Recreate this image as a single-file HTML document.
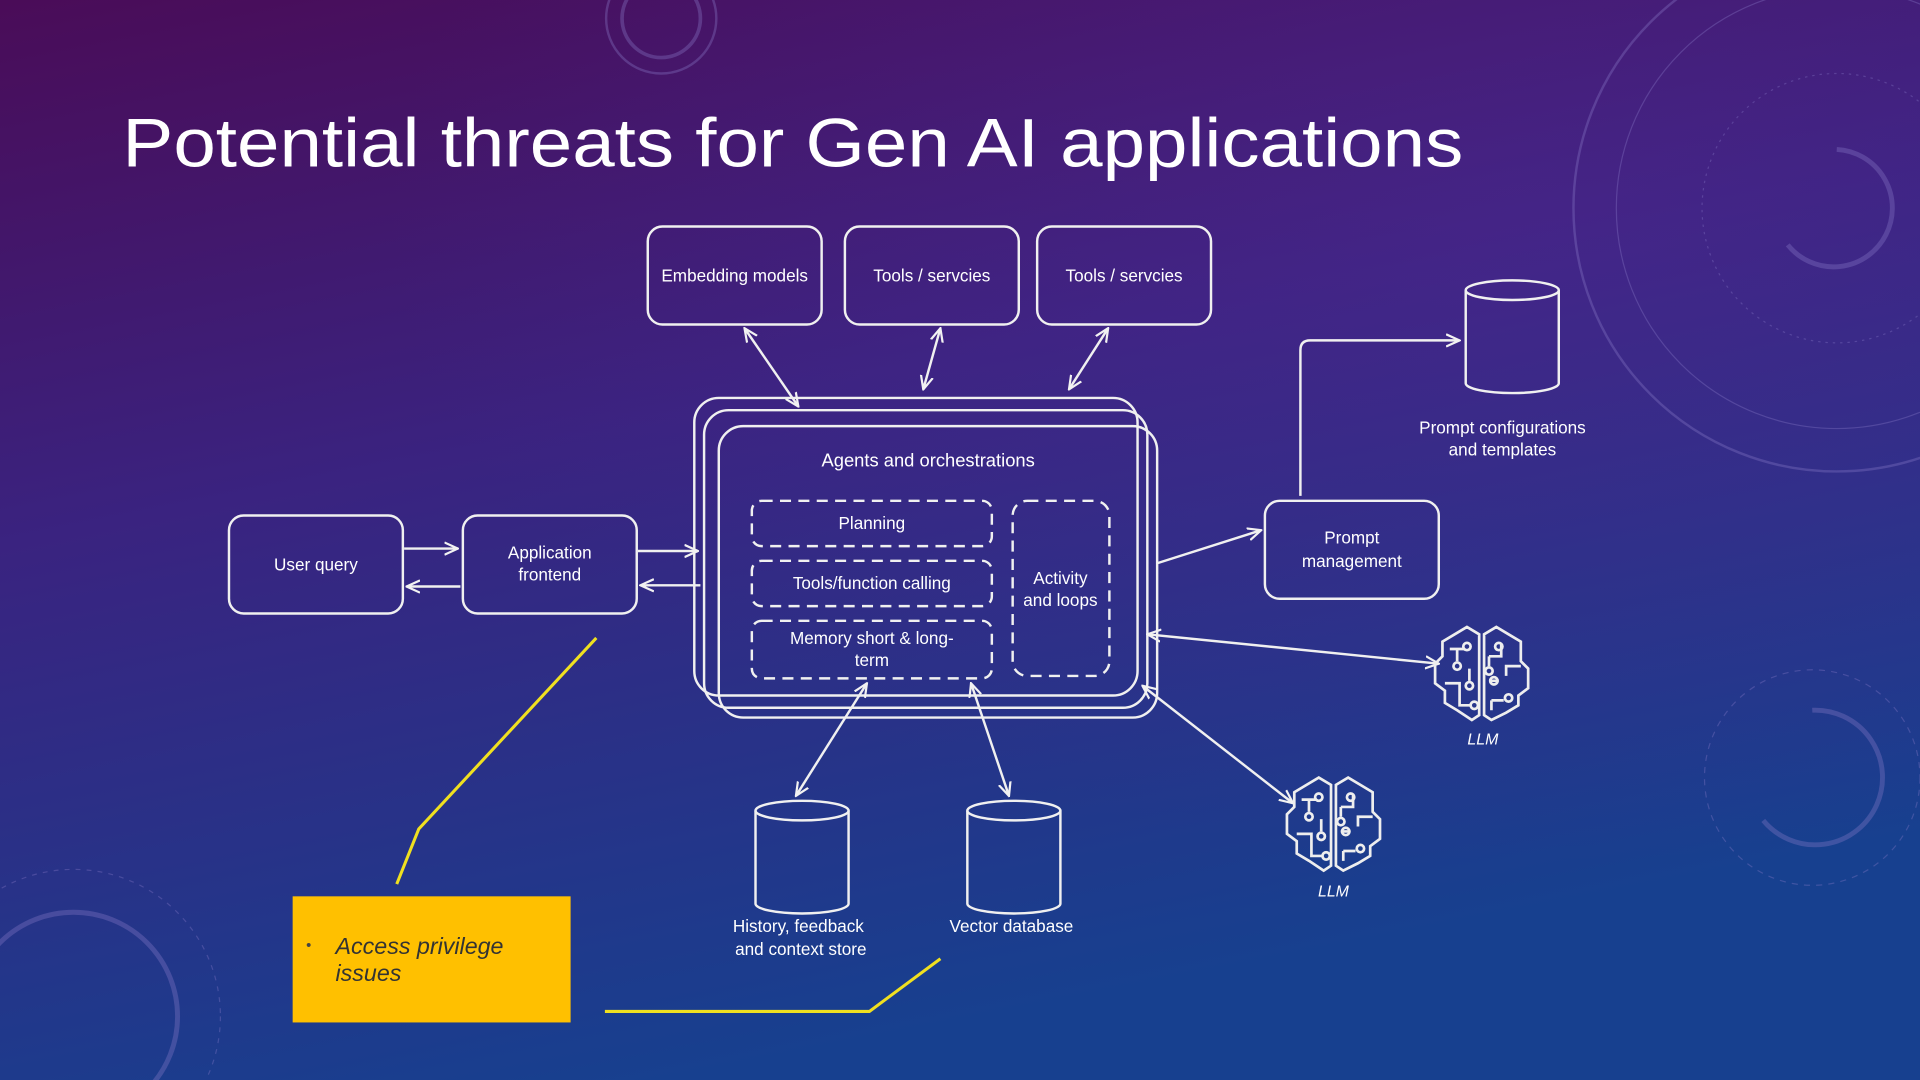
<!DOCTYPE html>
<html><head><meta charset="utf-8"><style>
html,body{margin:0;padding:0;width:1920px;height:1080px;overflow:hidden}
svg{display:block;position:absolute;left:0;top:0}
text{font-family:"Liberation Sans","DejaVu Sans",sans-serif;fill:#fff}
</style></head><body>
<svg width="1920" height="1080" viewBox="0 0 1568 882" xmlns="http://www.w3.org/2000/svg">
<defs>
<linearGradient id="bg" x1="0" y1="0" x2="0.35" y2="1">
<stop offset="0" stop-color="#4a0c58"/>
<stop offset="0.45" stop-color="#3a2380"/>
<stop offset="1" stop-color="#17408f"/>
</linearGradient>
<radialGradient id="gl" cx="0.8" cy="0.2" r="0.6">
<stop offset="0" stop-color="#5a2a9a" stop-opacity="0.3"/>
<stop offset="1" stop-color="#5a2a9a" stop-opacity="0"/>
</radialGradient>
<marker id="ah" viewBox="0 0 12 12" refX="11" refY="6" markerWidth="12" markerHeight="12" markerUnits="userSpaceOnUse" orient="auto-start-reverse">
<path d="M0,1 L11,6 L0,11" fill="none" stroke="#f2f2f2" stroke-width="1.8"/>
</marker>
<g id="brain" fill="none" stroke="#eee" stroke-width="2.2">
<path d="M-2,-32 L-12,-38 L-22,-32 L-32,-26 L-32,-14 L-38,-8 L-38,8 L-30,14 L-30,24 L-20,30 L-8,38 L-2,34 L-2,-32 Z"/>
<path d="M2,-32 L12,-38 L22,-32 L32,-26 L32,-10 L38,-4 L38,12 L30,18 L30,26 L20,32 L8,38 L2,34 L2,-32 Z"/>
<path d="M-26,-20 L-14,-20 M-20,-20 L-20,-10 M-10,-4 L-10,6 M-30,8 L-18,8 L-18,26 L-8,26 M6,-14 L16,-14 L16,-24 M6,-14 L6,-6 M6,6 L14,6 M20,2 L20,-6 L32,-6 M8,22 L8,30 M8,22 L18,22"/>
<circle cx="-12" cy="-22" r="3"/><circle cx="-20" cy="-6" r="3"/><circle cx="-10" cy="10" r="3"/><circle cx="-6" cy="26" r="3"/>
<circle cx="14" cy="-22" r="3"/><circle cx="6" cy="-2" r="3"/><circle cx="10" cy="6" r="3"/><circle cx="22" cy="20" r="3"/>
</g>
</defs>
<rect width="1568" height="882" fill="url(#bg)"/>
<rect width="1568" height="882" fill="url(#gl)"/>
<g fill="none" stroke="#8a7ac8" stroke-opacity="0.35">
<circle cx="1500" cy="170" r="215" stroke-width="2"/>
<circle cx="1500" cy="170" r="180" stroke-width="1"/>
<circle cx="1500" cy="170" r="110" stroke-dasharray="2 4"/>
<path d="M1500,122 A48,48 0 1 1 1460,200" stroke-width="4"/>
<circle cx="1480" cy="635" r="88" stroke-dasharray="5 5"/>
<path d="M1480,580 A55,55 0 1 1 1440,670" stroke-width="4"/>
<circle cx="60" cy="830" r="85" stroke-width="4"/>
<circle cx="60" cy="830" r="120" stroke-dasharray="4 5"/>
<circle cx="540" cy="15" r="45" stroke-width="2"/>
<circle cx="540" cy="15" r="32" stroke-width="3"/>
</g>
<text x="100" y="136" font-size="56" textLength="1095" lengthAdjust="spacingAndGlyphs">Potential threats for Gen AI applications</text>
<g fill="none" stroke="#f0f0f0" stroke-width="2">
<rect x="529" y="185" width="142" height="80" rx="12"/>
<rect x="690" y="185" width="142" height="80" rx="12"/>
<rect x="847" y="185" width="142" height="80" rx="12"/>
<rect x="567" y="325" width="362" height="243" rx="20"/>
<rect x="575" y="335" width="362" height="243" rx="20"/>
<rect x="587" y="348" width="358" height="238" rx="20"/>
<rect x="187" y="421" width="142" height="80" rx="12"/>
<rect x="378" y="421" width="142" height="80" rx="12"/>
<rect x="1033" y="409" width="142" height="80" rx="12"/>
<g stroke-dasharray="9 6">
<rect x="614" y="409" width="196" height="37" rx="8"/>
<rect x="614" y="458" width="196" height="37" rx="8"/>
<rect x="614" y="507" width="196" height="47" rx="8"/>
<rect x="827" y="409" width="79" height="143" rx="12"/>
</g>
<path d="M1197,237 L1197,313 A38,8 0 0 0 1273,313 L1273,237"/><ellipse cx="1235" cy="237" rx="38" ry="8"/>
<path d="M617,662 L617,738 A38,8 0 0 0 693,738 L693,662"/><ellipse cx="655" cy="662" rx="38" ry="8"/>
<path d="M790,662 L790,738 A38,8 0 0 0 866,738 L866,662"/><ellipse cx="828" cy="662" rx="38" ry="8"/>
<g marker-start="url(#ah)" marker-end="url(#ah)">
<line x1="608" y1="268" x2="652" y2="332"/>
<line x1="768" y1="268" x2="754" y2="318"/>
<line x1="905" y1="268" x2="873" y2="318"/>
<line x1="708" y1="558" x2="650" y2="650"/>
<line x1="793" y1="558" x2="824" y2="650"/>
<line x1="937" y1="518" x2="1175" y2="542"/>
<line x1="933" y1="560" x2="1056" y2="656"/>
</g>
<g marker-end="url(#ah)">
<line x1="330" y1="448" x2="374" y2="448"/>
<line x1="376" y1="479" x2="332" y2="479"/>
<line x1="521" y1="450" x2="570" y2="450"/>
<line x1="572" y1="478" x2="523" y2="478"/>
<line x1="945" y1="460" x2="1030" y2="433"/>
<path d="M1062,405 L1062,286 Q1062,278 1070,278 L1192,278"/>
</g>
</g>
<use href="#brain" x="1210" y="550"/>
<use href="#brain" x="1089" y="673"/>
<g fill="none" stroke="#f0e020" stroke-width="2.5">
<path d="M487,521 L342,677 L324,722"/>
<path d="M494,826 L710,826 L768,783"/>
</g>
<rect x="239" y="732" width="227" height="103" fill="#ffc000"/>
<text x="250" y="776" font-size="12" style="fill:#444">•</text>
<text x="274" y="779" font-size="19" style="fill:#333;font-style:italic">Access privilege</text>
<text x="274" y="801" font-size="19" style="fill:#333;font-style:italic">issues</text>
<g font-size="14" text-anchor="middle">
<text x="600" y="230">Embedding models</text>
<text x="761" y="230">Tools / servcies</text>
<text x="918" y="230">Tools / servcies</text>
<text x="758" y="381" font-size="15">Agents and orchestrations</text>
<text x="712" y="432">Planning</text>
<text x="712" y="481">Tools/function calling</text>
<text x="712" y="526">Memory short &amp; long-</text>
<text x="712" y="544">term</text>
<text x="866" y="477">Activity</text>
<text x="866" y="495">and loops</text>
<text x="258" y="466">User query</text>
<text x="449" y="456">Application</text>
<text x="449" y="474">frontend</text>
<text x="1104" y="444">Prompt</text>
<text x="1104" y="463">management</text>
<text x="1227" y="354">Prompt configurations</text>
<text x="1227" y="372">and templates</text>
<text x="652" y="761">History, feedback</text>
<text x="654" y="780">and context store</text>
<text x="826" y="761">Vector database</text>
<text x="1211" y="608" font-size="13" style="font-style:italic">LLM</text>
<text x="1089" y="732" font-size="13" style="font-style:italic">LLM</text>
</g>
</svg>
</body></html>
